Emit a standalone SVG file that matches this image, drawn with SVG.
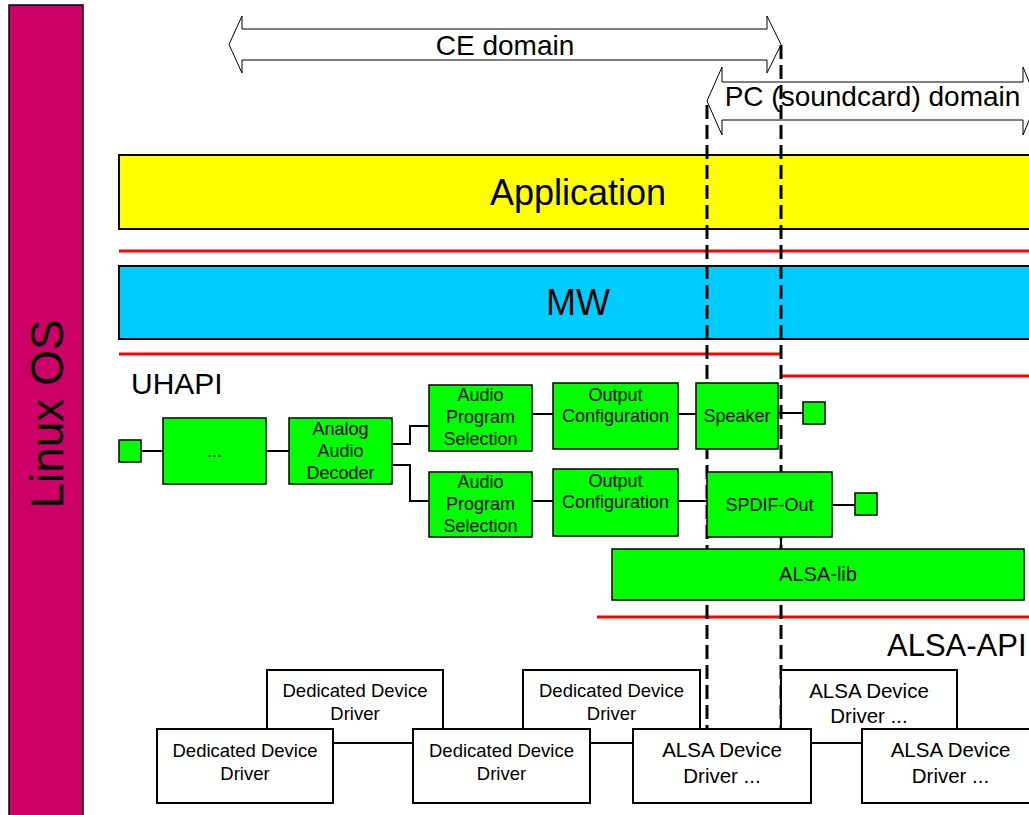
<svg xmlns="http://www.w3.org/2000/svg" width="1029" height="815" viewBox="0 0 1029 815">
  <style>
    text { font-family: "Liberation Sans", Arial, sans-serif; fill: #000; }
    .arrow { fill: #fff; stroke: #000; stroke-width: 1; }
    .layer { stroke: #000; stroke-width: 2; }
    .red { stroke: #ff0000; stroke-width: 3; }
    .dash { stroke: #000; stroke-width: 3; stroke-dasharray: 14 6; fill: none; }
    .link { stroke: #000; stroke-width: 2; fill: none; }
    .green { fill: #00ff00; stroke: #000; stroke-width: 1.5; }
    .drv { fill: #fff; stroke: #000; stroke-width: 2; }
    .g18 { font-size: 18px; text-anchor: middle; }
    .d18 { font-size: 18.5px; text-anchor: middle; }
    .a20 { font-size: 20.5px; text-anchor: middle; }
    .big { font-size: 30px; }
    .dom { font-size: 28px; text-anchor: middle; }
  </style>

  <!-- Operating system bar -->
  <g id="linux-os">
    <rect x="9" y="5" width="74" height="815" fill="#cc0066" stroke="#000" stroke-width="1.5"/>
    <text transform="translate(63,414) rotate(-90)" font-size="46" text-anchor="middle">Linux OS</text>
  </g>

  <!-- Domain ranges -->
  <g id="ce-domain">
    <polygon class="arrow" points="229,44.5 242,16 242,29 767,29 767,16 781,44.5 767,73 767,60 242,60 242,73"/>
    <text class="dom" x="505" y="55">CE domain</text>
  </g>
  <g id="pc-domain">
    <polygon class="arrow" points="707,101 722,67 722,82 1023,82 1023,67 1037,101 1023,135 1023,120 722,120 722,135"/>
    <text class="dom" x="872.5" y="106">PC (soundcard) domain</text>
  </g>

  <!-- Software layers -->
  <g id="application">
    <rect class="layer" x="119" y="155" width="930" height="74" fill="#ffff00"/>
    <text x="578" y="205" font-size="36" text-anchor="middle">Application</text>
  </g>
  <g id="mw">
    <rect class="layer" x="119" y="266" width="930" height="73" fill="#00ccff"/>
    <text x="578" y="315" font-size="36" text-anchor="middle">MW</text>
  </g>

  <!-- Interface boundaries -->
  <g id="boundaries">
    <line class="red" x1="119" y1="251" x2="1029" y2="251"/>
    <line class="red" x1="119" y1="354" x2="782" y2="354"/>
    <line class="red" x1="780" y1="376" x2="1029" y2="376"/>
    <line class="red" x1="597" y1="617" x2="1029" y2="617"/>
  </g>
  <text id="uhapi" class="big" x="131" y="394">UHAPI</text>
  <text id="alsa-api" class="big" x="887" y="656" style="font-size:31px">ALSA-API</text>

  <!-- Domain borders -->
  <g id="domain-borders">
    <line class="dash" x1="707" y1="105" x2="707" y2="729"/>
    <line class="dash" x1="781" y1="45" x2="781" y2="729"/>
  </g>

  <!-- Connectors -->
  <g id="connectors">
    <line class="link" x1="141" y1="451" x2="163" y2="451"/>
    <line class="link" x1="266" y1="451" x2="289" y2="451"/>
    <polyline class="link" points="392,444 410,444 410,426 429,426"/>
    <polyline class="link" points="392,465 410,465 410,501 429,501"/>
    <line class="link" x1="532" y1="414" x2="553" y2="414"/>
    <line class="link" x1="678" y1="414" x2="696" y2="414"/>
    <line class="link" x1="778" y1="413" x2="803" y2="413"/>
    <line class="link" x1="532" y1="501" x2="553" y2="501"/>
    <line class="link" x1="678" y1="501" x2="707" y2="501"/>
    <line class="link" x1="832" y1="505" x2="855" y2="505"/>
    <line class="link" x1="781" y1="537" x2="781" y2="549"/>
    <line class="link" x1="333" y1="743" x2="413" y2="743"/>
    <line class="link" x1="590" y1="743" x2="633" y2="743"/>
    <line class="link" x1="811" y1="743" x2="862" y2="743"/>
  </g>

  <!-- Audio processing chain -->
  <g id="input-port"><rect class="green" x="119" y="440" width="22" height="22"/></g>
  <g id="chain-start">
    <rect class="green" x="163" y="418" width="103" height="66"/>
    <text class="g18" x="214.5" y="457">...</text>
  </g>
  <g id="analog-audio-decoder">
    <rect class="green" x="289" y="418" width="103" height="66"/>
    <text class="g18" x="340.5" y="435">Analog</text>
    <text class="g18" x="340.5" y="457">Audio</text>
    <text class="g18" x="340.5" y="479">Decoder</text>
  </g>
  <g id="audio-program-selection-1">
    <rect class="green" x="429" y="385" width="103" height="66"/>
    <text class="g18" x="480.5" y="401">Audio</text>
    <text class="g18" x="480.5" y="423">Program</text>
    <text class="g18" x="480.5" y="445">Selection</text>
  </g>
  <g id="output-configuration-1">
    <rect class="green" x="553" y="383" width="125" height="66"/>
    <text class="g18" x="615.5" y="401">Output</text>
    <text class="g18" x="615.5" y="422">Configuration</text>
  </g>
  <g id="speaker">
    <rect class="green" x="696" y="383" width="82" height="66"/>
    <text class="g18" x="737" y="422">Speaker</text>
  </g>
  <g id="speaker-port"><rect class="green" x="803" y="402" width="22" height="22"/></g>
  <g id="audio-program-selection-2">
    <rect class="green" x="429" y="472" width="103" height="65"/>
    <text class="g18" x="480.5" y="488">Audio</text>
    <text class="g18" x="480.5" y="510">Program</text>
    <text class="g18" x="480.5" y="532">Selection</text>
  </g>
  <g id="output-configuration-2">
    <rect class="green" x="553" y="469" width="125" height="67"/>
    <text class="g18" x="615.5" y="487">Output</text>
    <text class="g18" x="615.5" y="508">Configuration</text>
  </g>
  <g id="spdif-out">
    <rect class="green" x="707" y="472" width="125" height="65"/>
    <text class="g18" x="769.5" y="510.5">SPDIF-Out</text>
  </g>
  <g id="spdif-port"><rect class="green" x="855" y="493" width="22" height="22"/></g>
  <g id="alsa-lib">
    <rect class="green" x="612" y="549" width="412" height="51"/>
    <text x="818" y="581" font-size="20" text-anchor="middle">ALSA-lib</text>
  </g>

  <!-- Kernel drivers: back row first, front row drawn over it -->
  <g id="dedicated-driver-2">
    <rect class="drv" x="267" y="670" width="176" height="73"/>
    <text class="d18" x="355" y="697">Dedicated Device</text>
    <text class="d18" x="355" y="720">Driver</text>
  </g>
  <g id="dedicated-driver-4">
    <rect class="drv" x="523" y="670" width="177" height="73"/>
    <text class="d18" x="611.5" y="697">Dedicated Device</text>
    <text class="d18" x="611.5" y="720">Driver</text>
  </g>
  <g id="alsa-driver-2">
    <rect class="drv" x="781" y="670" width="176" height="73"/>
    <text class="a20" x="869" y="698">ALSA Device</text>
    <text class="a20" x="869" y="723">Driver ...</text>
  </g>
  <g id="dedicated-driver-1">
    <rect class="drv" x="157" y="729" width="176" height="74"/>
    <text class="d18" x="245" y="757">Dedicated Device</text>
    <text class="d18" x="245" y="780">Driver</text>
  </g>
  <g id="dedicated-driver-3">
    <rect class="drv" x="413" y="729" width="177" height="74"/>
    <text class="d18" x="501.5" y="757">Dedicated Device</text>
    <text class="d18" x="501.5" y="780">Driver</text>
  </g>
  <g id="alsa-driver-1">
    <rect class="drv" x="633" y="729" width="178" height="74"/>
    <text class="a20" x="722" y="757">ALSA Device</text>
    <text class="a20" x="722" y="783">Driver ...</text>
  </g>
  <g id="alsa-driver-3">
    <rect class="drv" x="862" y="729" width="177" height="74"/>
    <text class="a20" x="950.5" y="757">ALSA Device</text>
    <text class="a20" x="950.5" y="783">Driver ...</text>
  </g>
</svg>
